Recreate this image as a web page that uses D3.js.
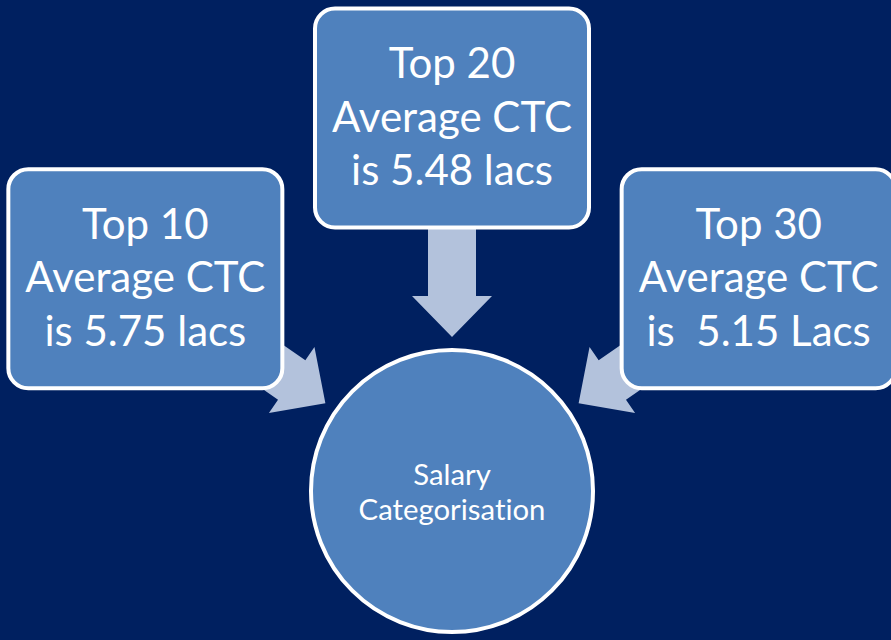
<!DOCTYPE html>
<html>
<head>
<meta charset="utf-8">
<script src="https://cdn.jsdelivr.net/npm/d3@7"></script>
<style>
  html, body { margin: 0; padding: 0; background: #002060; }
  svg { display: block; }
  text { font-family: Lato, "Open Sans", sans-serif; fill: #ffffff; white-space: pre;
         font-variant-ligatures: none; font-feature-settings: "liga" 0, "clig" 0; }
</style>
</head>
<body>
<svg id="chart" width="891" height="640"></svg>
<script>
// ---- data ----
const categories = ["Top 10", "Top 20", "Top 30"];
const avgCTC = [5.75, 5.48, 5.15];
const units = ["lacs", "lacs", "Lacs"];
const valuePrefix = ["is ", "is ", "is  "];
const centreLabel = ["Salary", "Categorisation"];
const angles = [-145.3, -90, -34.7]; // direction of each box from the centre (degrees)

// ---- layout ----
const W = 891, H = 640;
const svg = d3.select("#chart");
svg.append("rect").attr("width", W).attr("height", H).attr("fill", "#002060");

const cx = 452, cy = 491;
const ringR = 373;      // distance of box centres from circle centre
const circleR = 141;
const tipR = 154;       // arrow tip distance from centre
const boxW = 274, boxH = 219, boxRx = 20;

const angle = d3.scaleLinear().domain([0, 360]).range([0, 2 * Math.PI]);
const boxes = categories.map((c, i) => {
  const a = angle(angles[i]);
  return {
    cat: c, val: avgCTC[i], unit: units[i], pre: valuePrefix[i], a,
    x: cx + ringR * Math.cos(a), y: cy + ringR * Math.sin(a)
  };
});

// ---- arrows ----
const shaftW = 48, headW = 80, headL = 41, tailR = 300;
const arrowG = svg.append("g");
boxes.forEach(b => {
  const ux = Math.cos(b.a), uy = Math.sin(b.a);
  const px = -uy, py = ux; // perpendicular
  const tip = [cx + tipR * ux, cy + tipR * uy];
  const baseR = tipR + headL;
  const base = [cx + baseR * ux, cy + baseR * uy];
  const tail = [cx + tailR * ux, cy + tailR * uy];
  const pts = [
    [tail[0] + px * shaftW / 2, tail[1] + py * shaftW / 2],
    [base[0] + px * shaftW / 2, base[1] + py * shaftW / 2],
    [base[0] + px * headW / 2, base[1] + py * headW / 2],
    tip,
    [base[0] - px * headW / 2, base[1] - py * headW / 2],
    [base[0] - px * shaftW / 2, base[1] - py * shaftW / 2],
    [tail[0] - px * shaftW / 2, tail[1] - py * shaftW / 2]
  ];
  arrowG.append("path")
    .attr("d", d3.line()(pts) + "Z")
    .attr("fill", "#B3C2DC");
});

// ---- boxes ----
const boxG = svg.selectAll("g.box").data(boxes).join("g").attr("class", "box")
  .attr("transform", d => `translate(${d.x},${d.y})`);
boxG.append("rect")
  .attr("x", -boxW / 2).attr("y", -boxH / 2)
  .attr("width", boxW).attr("height", boxH)
  .attr("rx", boxRx).attr("ry", boxRx)
  .attr("fill", "#4F81BD").attr("stroke", "#ffffff").attr("stroke-width", 4);

const lineGap = 53.5;
const boxFont = 40;
const boxLines = d => [d.cat, "Average CTC", d.pre + d.val.toFixed(2) + " " + d.unit];
boxG.each(function(d) {
  const g = d3.select(this);
  boxLines(d).forEach((t, i) => {
    g.append("text")
      .attr("x", 0).attr("y", 13.5 + (i - 1) * lineGap)
      .attr("text-anchor", "middle")
      .attr("font-size", boxFont)
      .text(t);
  });
});
// fit font so "Average CTC" is ~240px wide
const probe = boxG.selectAll("text").filter(function() { return d3.select(this).text() === "Average CTC"; }).node();
if (probe) {
  const w = probe.getComputedTextLength();
  const fs = boxFont * 240 / w;
  boxG.selectAll("text").attr("font-size", fs);
}

// ---- centre circle ----
svg.append("circle").attr("cx", cx).attr("cy", cy).attr("r", circleR)
  .attr("fill", "#4F81BD").attr("stroke", "#ffffff").attr("stroke-width", 4);
const cText = svg.selectAll("text.centre").data(centreLabel).join("text")
  .attr("class", "centre")
  .attr("x", cx).attr("y", (d, i) => 485 + i * 35)
  .attr("text-anchor", "middle")
  .attr("font-size", 24)
  .text(d => d);
const cw = cText.filter((d, i) => i === 1).node().getComputedTextLength();
cText.attr("font-size", 24 * 187 / cw);
</script>
</body>
</html>
